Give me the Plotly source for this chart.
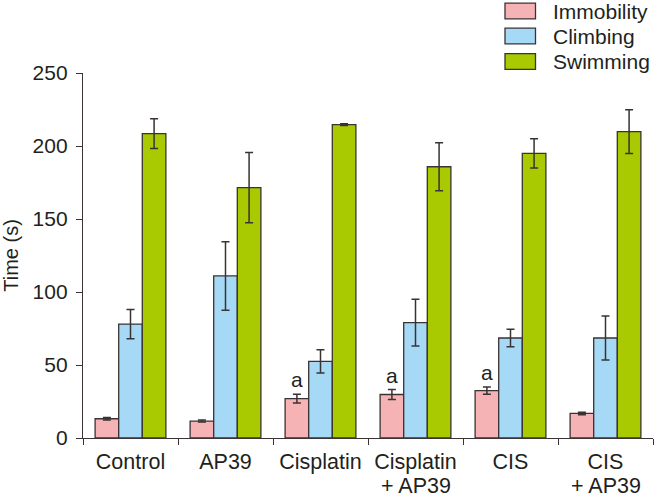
import plotly.graph_objects as go

categories = ["Control", "AP39", "Cisplatin", "Cisplatin<br>+ AP39", "CIS", "CIS<br>+ AP39"]
series_names = ["Immobility", "Climbing", "Swimming"]
immobility = [13.2, 11.6, 27.0, 29.8, 32.5, 16.8]
immobility_err = [0.8, 0.7, 3.0, 3.4, 2.5, 0.8]
climbing = [78.0, 111.0, 52.5, 79.0, 68.5, 68.5]
climbing_err = [10.0, 23.5, 8.0, 16.0, 6.0, 15.0]
swimming = [208.5, 171.5, 214.6, 185.8, 195.0, 209.8]
swimming_err = [10.2, 24.0, 0.6, 16.5, 10.0, 15.0]
sig_labels = ["", "", "a", "a", "a", ""]
y_ticks = [0, 50, 100, 150, 200, 250]

colors = ["#F5B3B6", "#A6D9F6", "#A9CA00"]
outline = "#3a3233"
text_color = "#231f20"
font_family = "Liberation Sans, Arial, sans-serif"
fs = 21.5

W, H = 655, 497
ML, MR, MT, MB = 83, 2, 73, 59
PW, PH = W - ML - MR, H - MT - MB


def px_x(px):
    return (px - ML) / PW


def px_y(py):
    return (H - MB - py) / PH


fig = go.Figure()
for name, vals, errs, col in zip(series_names,
                                 [immobility, climbing, swimming],
                                 [immobility_err, climbing_err, swimming_err],
                                 colors):
    fig.add_trace(go.Bar(
        x=categories, y=vals, name=name, showlegend=False,
        marker=dict(color=col, line=dict(color=outline, width=1.3)),
        error_y=dict(type="data", array=errs, visible=True,
                     color=outline, thickness=1.5, width=4),
    ))

bargap = 0.255
bar_w = (1 - bargap) / 3
for i, lab in enumerate(sig_labels):
    if lab:
        fig.add_annotation(
            x=i - bar_w, y=immobility[i] + immobility_err[i],
            xref="x", yref="y", text=lab, showarrow=False,
            yanchor="bottom", yshift=1,
            font=dict(size=21, color=text_color, family=font_family),
        )

# category labels: first line as tick text, second line placed just below
first_lines = [c.split("<br>")[0] for c in categories]
for c in categories:
    parts = c.split("<br>")
    if len(parts) > 1:
        fig.add_annotation(
            x=c, y=0, xref="x", yref="paper", text=parts[1], showarrow=False,
            yanchor="top", yshift=-34,
            font=dict(size=fs, color=text_color, family=font_family),
        )

# legend (top right)
legend_rows = [11, 36, 61.5]
for name, col, cy in zip(series_names, colors, legend_rows):
    fig.add_shape(type="rect", xref="paper", yref="paper",
                  x0=px_x(505), x1=px_x(535.5), y0=px_y(cy + 7.8), y1=px_y(cy - 7.8),
                  fillcolor=col, line=dict(color=outline, width=1.3))
    fig.add_annotation(x=px_x(551), y=px_y(cy), xref="paper", yref="paper",
                       text=name, showarrow=False, xanchor="left", yanchor="middle",
                       font=dict(size=21, color=text_color, family=font_family))

fig.update_layout(
    width=W, height=H,
    margin=dict(l=ML, r=MR, t=MT, b=MB, autoexpand=False),
    barmode="group", bargap=bargap, bargroupgap=0,
    plot_bgcolor="white", paper_bgcolor="white",
    font=dict(family=font_family, size=fs, color=text_color),
    showlegend=False,
    xaxis=dict(
        type="category", tickson="boundaries", ticks="outside", ticklen=6,
        tickcolor=outline, tickwidth=1.3,
        tickmode="array", tickvals=categories, ticktext=first_lines,
        showline=True, linecolor=outline, linewidth=1.3,
        showgrid=False, tickfont=dict(size=fs, color=text_color),
        range=[-0.5, 5.5], automargin=False, ticklabelstandoff=4,
    ),
    yaxis=dict(
        range=[0, 250], tickvals=y_ticks,
        ticks="outside", ticklen=6, tickcolor=outline, tickwidth=1.3,
        showline=True, linecolor=outline, linewidth=1.3,
        showgrid=False, zeroline=False, automargin=False,
        tickfont=dict(size=21, color=text_color), ticklabelstandoff=4,
        title=dict(text="Time (s)", font=dict(size=20, color=text_color), standoff=9),
    ),
)

fig.write_html("out.html", config={"displayModeBar": False},
               post_script="document.body.style.margin='0';")
